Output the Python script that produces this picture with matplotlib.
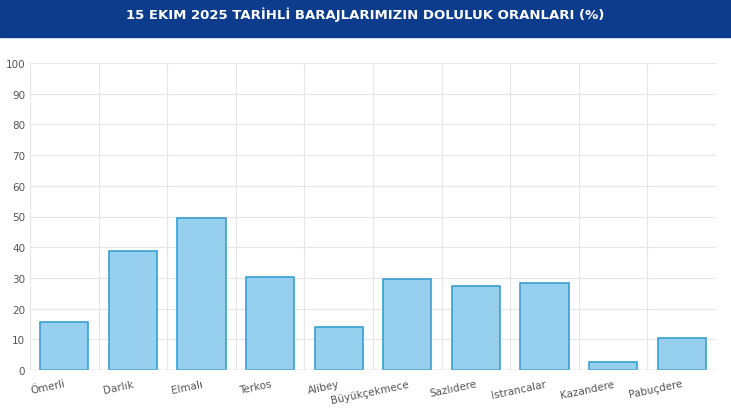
import matplotlib
matplotlib.use("Agg")
import matplotlib.pyplot as plt
from matplotlib.patches import Rectangle

categories = ["Ömerli", "Darlık", "Elmalı", "Terkos", "Alibey", "Büyükçekmece",
              "Sazlıdere", "Istrancalar", "Kazandere", "Pabuçdere"]
values = [15.5, 38.7, 49.5, 30.2, 14.0, 29.5, 27.3, 28.2, 2.5, 10.4]
title = "15 EKIM 2025 TARİHLİ BARAJLARIMIZIN DOLULUK ORANLARI (%)"

fig = plt.figure(figsize=(7.31, 4.10), dpi=100)
fig.patches.append(Rectangle((0, 1 - 38/410), 1, 38/410, transform=fig.transFigure,
                             color="#0e3c8c", zorder=0))
fig.text(0.5, 1 - 15/410, title, color="white", fontsize=9.5, fontweight="bold",
         ha="center", va="center")

ax = fig.add_axes([30/731, 39/410, 686/731, 307/410])
x = range(len(categories))
ax.bar(x, values, width=0.7, color="#97d0ee", edgecolor="#3a9fd0", linewidth=1.2, zorder=3)
ax.set_xlim(-0.5, len(categories) - 0.5)
ax.set_ylim(0, 100)
ax.set_yticks(range(0, 101, 10))
ax.set_xticks(list(x))
ax.set_xticklabels(categories, rotation=12, ha="right", rotation_mode="anchor",
                   fontsize=7.5, color="#555555")
ax.tick_params(axis="y", labelsize=7.5, colors="#555555", length=0)
ax.tick_params(axis="x", length=0, pad=6)
for i in range(len(categories) + 1):
    ax.axvline(i - 0.5, color="#e6e6e6", linewidth=0.8, zorder=1)
ax.grid(axis="y", color="#e6e6e6", linewidth=0.8, zorder=1)
for s in ax.spines.values():
    s.set_visible(False)
ax.axhline(0, color="#cccccc", linewidth=1, zorder=4)
fig.savefig("out.png", dpi=100)
